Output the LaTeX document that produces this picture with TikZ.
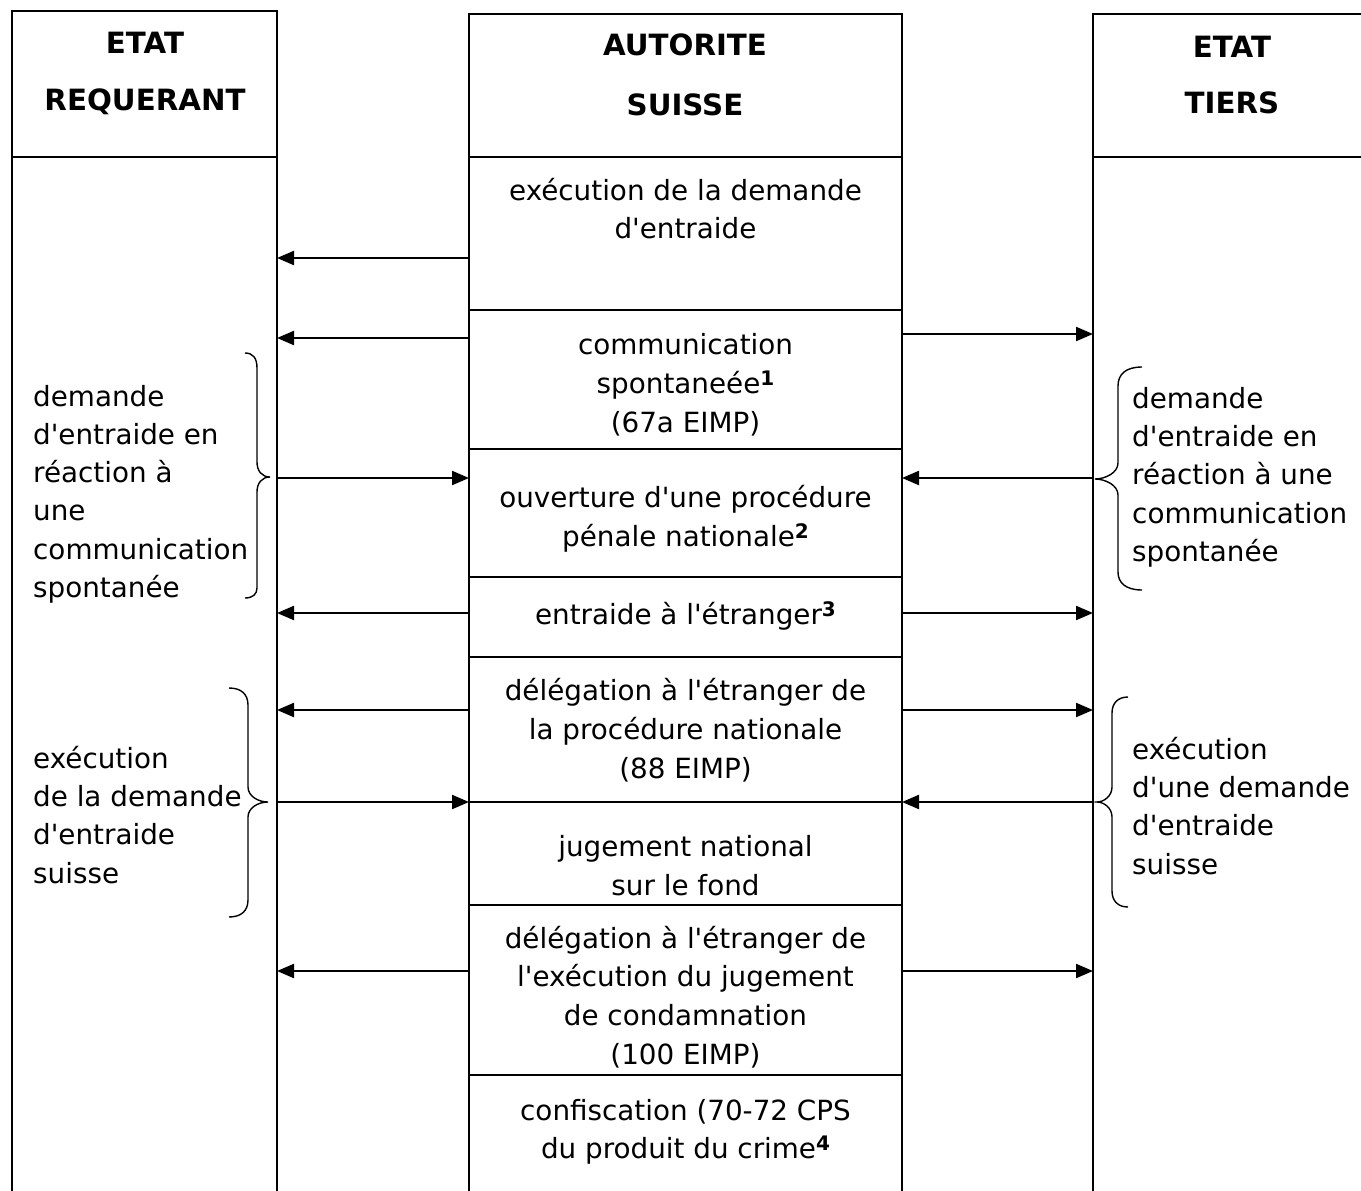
\documentclass[tikz,border=0pt]{standalone}
\usepackage{fontspec}
\setmainfont{DejaVu Sans}[Ligatures=TeXOff]
\usetikzlibrary{arrows.meta}
\newcommand\notemark[1]{\raisebox{8pt}{\fontsize{20}{20}\selectfont\bfseries #1}}
\begin{document}
\begin{tikzpicture}[x=1pt,y=-1pt,
  rule/.style={line width=2.2pt},
  link/.style={line width=2.2pt,-{Triangle[length=17pt,width=14pt]}},
  brace/.style={line width=1.4pt},
  head/.style={font=\fontsize{29.3}{35}\selectfont\bfseries,anchor=base,inner sep=0pt},
  % multi-line texts are placed by the baseline of their last line
  cell/.style={font=\fontsize{27.8}{38.6}\selectfont,anchor=base,align=center,inner sep=0pt},
  side/.style={font=\fontsize{27.8}{38.3}\selectfont,anchor=base west,align=left,inner sep=0pt},
]
\clip (0,0) rectangle (1361,1191);
\fill[white] (0,0) rectangle (1361,1191);

% column frames
\draw[rule] (12,11) rectangle (277,157);
\draw[rule] (12,157) -- (12,1200) (277,157) -- (277,1200);
\draw[rule] (469,14) rectangle (902,157);
\draw[rule] (469,157) -- (469,1200) (902,157) -- (902,1200);
\draw[rule] (1093,14) rectangle (1371,157);
\draw[rule] (1093,157) -- (1093,1200);

% row separators of the Swiss column
\foreach \y in {310,449,577,657,802,905,1075}
  \draw[rule] (469,\y) -- (902,\y);

% headers
\node[head] (hl1) at (145,53) {ETAT};
\node[head] (hl2) at (145,110) {REQUERANT};
\node[head] (hc1) at (685,55) {AUTORITE};
\node[head] (hc2) at (685,115) {SUISSE};
\node[head] (hr1) at (1232,57) {ETAT};
\node[head] (hr2) at (1232,113) {TIERS};

% steps of the Swiss procedure
\node[cell] (s1) at (685.5,238.6) {exécution de la demande\\d'entraide};
\node[cell] (s2) at (685.5,432) {communication\\spontaneée\notemark{1}\\(67a EIMP)};
\node[cell] (s3) at (685.5,546) {ouverture d'une procédure\\pénale nationale\notemark{2}};
\node[cell] (s4) at (685.5,624) {entraide à l'étranger\notemark{3}};
\node[cell] (s5) at (685.5,778) {délégation à l'étranger de\\la procédure nationale\\(88 EIMP)};
\node[cell] (s6) at (685.5,895) {jugement national\\sur le fond};
\node[cell] (s7) at (685.5,1064) {délégation à l'étranger de\\l'exécution du jugement\\de condamnation\\(100 EIMP)};
\node[cell] (s8) at (685.5,1158.6) {confiscation (70-72 CPS\\du produit du crime\notemark{4}};

% side notes
\node[side] (nl1) at (33,597.5) {demande\\d'entraide en\\réaction à\\une\\communication\\spontanée};
\node[side] (nl2) at (33,883) {exécution\\de la demande\\d'entraide\\suisse};
\node[side] (nr1) at (1132,561.5) {demande\\d'entraide en\\réaction à une\\communication\\spontanée};
\node[side] (nr2) at (1132,874) {exécution\\d'une demande\\d'entraide\\suisse};

% anchor points on the column lines
\foreach \n/\y in {a/258,b/338,c/478,d/613,e/710,f/802,g/971} {
  \coordinate (L\n) at (277,\y);
  \coordinate (C\n) at (469,\y);
}
\foreach \n/\y in {b/334,c/478,d/613,e/710,f/802,g/971} {
  \coordinate (D\n) at (902,\y);
  \coordinate (R\n) at (1093,\y);
}

% exchanges with the requesting state
\draw[link] (Ca) -- (La);
\draw[link] (Cb) -- (Lb);
\draw[link] (Lc) -- (Cc);
\draw[link] (Cd) -- (Ld);
\draw[link] (Ce) -- (Le);
\draw[link] (Lf) -- (Cf);
\draw[link] (Cg) -- (Lg);

% exchanges with the third state
\draw[link] (Db) -- (Rb);
\draw[link] (Rc) -- (Dc);
\draw[link] (Dd) -- (Rd);
\draw[link] (De) -- (Re);
\draw[link] (Rf) -- (Df);
\draw[link] (Dg) -- (Rg);

% braces
\draw[brace] (245,353) .. controls (253,353) and (257,358) .. (257,368)
  -- (257,462) .. controls (257,471) and (262,477) .. (270,477)
  .. controls (262,477) and (257,483) .. (257,492)
  -- (257,588) .. controls (257,594) and (253,598) .. (245,598);
\draw[brace] (229,688) .. controls (241,688) and (248,694) .. (248,705)
  -- (248,787) .. controls (248,796) and (258,802) .. (268,802)
  .. controls (258,802) and (248,808) .. (248,817)
  -- (248,900) .. controls (248,911) and (241,917) .. (229,917);
\draw[brace] (1142,367) .. controls (1126,367) and (1118,374) .. (1118,386)
  -- (1118,463) .. controls (1118,473) and (1105,479) .. (1095,479)
  .. controls (1105,479) and (1118,485) .. (1118,495)
  -- (1118,572) .. controls (1118,583) and (1126,590) .. (1142,590);
\draw[brace] (1128,697) .. controls (1118,697) and (1112,703) .. (1112,713)
  -- (1112,787) .. controls (1112,796) and (1104,802) .. (1097,802)
  .. controls (1104,802) and (1112,808) .. (1112,817)
  -- (1112,891) .. controls (1112,901) and (1118,907) .. (1128,907);
\end{tikzpicture}
\end{document}
